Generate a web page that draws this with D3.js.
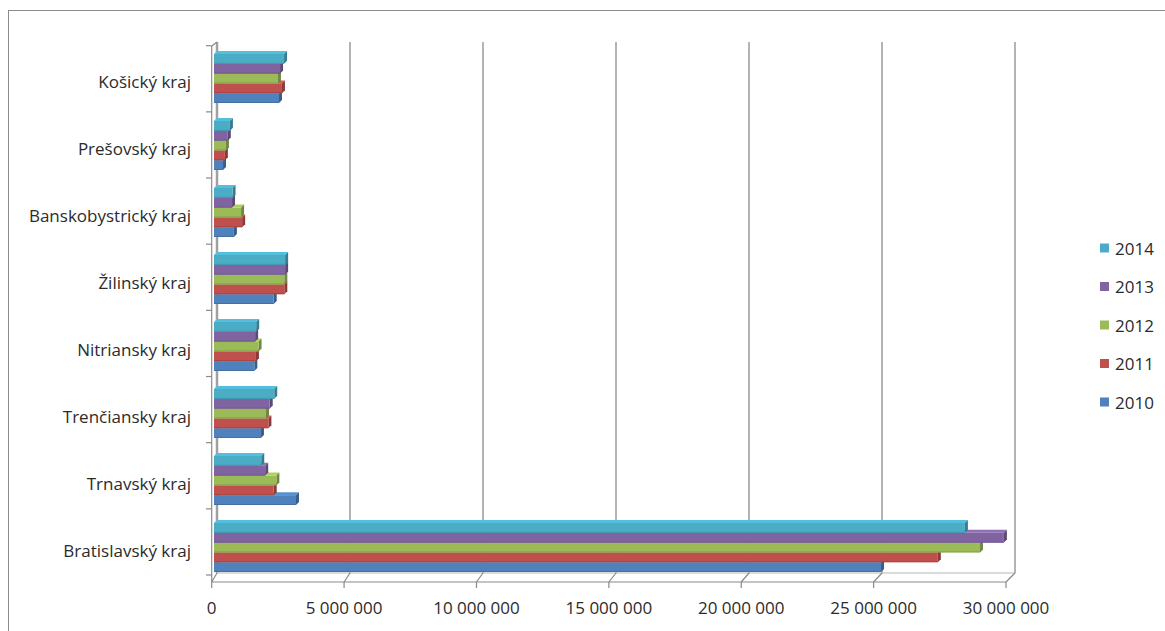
<!DOCTYPE html>
<html><head><meta charset="utf-8">
<script src="https://cdn.jsdelivr.net/npm/d3@7"></script>
<style>body{margin:0;background:#fff}svg{display:block}text{font-family:"Open Sans",sans-serif;fill:#2b2b2b}</style>
</head><body><svg id="c" width="1165" height="631"></svg>
<script>
const categories = ["Košický kraj","Prešovský kraj","Banskobystrický kraj","Žilinský kraj","Nitriansky kraj","Trenčiansky kraj","Trnavský kraj","Bratislavský kraj"];
const series = ["2014","2013","2012","2011","2010"];
const colors = ["#4BACC6","#8064A2","#9BBB59","#C0504D","#4F81BD"];
const v2014 = [2640000, 600000, 700000, 2680000, 1590000, 2270000, 1780000, 28300000];
const v2013 = [2490000, 520000, 680000, 2680000, 1550000, 2100000, 1930000, 29770000];
const v2012 = [2410000, 450000, 1020000, 2650000, 1680000, 1960000, 2350000, 28870000];
const v2011 = [2560000, 410000, 1060000, 2650000, 1580000, 2050000, 2250000, 27280000];
const v2010 = [2450000, 340000, 750000, 2250000, 1520000, 1770000, 3090000, 25140000];
const values = [v2014, v2013, v2012, v2011, v2010];
const xTicks = [0, 5000000, 10000000, 15000000, 20000000, 25000000, 30000000];
const tickLabels = ["0","5 000 000","10 000 000","15 000 000","20 000 000","25 000 000","30 000 000"];

const svg = d3.select("#c");
const grid = "#8a8a8a";
const FS = 17;
svg.append("rect").attr("x",8.5).attr("y",10.5).attr("width",1200).attr("height",700)
  .attr("fill","none").attr("stroke","#8c8c8c").attr("stroke-width",1);

const xFront = d3.scaleLinear().domain([0,30000000]).range([211.7,1006]);
const xBack = d3.scaleLinear().domain([0,30000000]).range([217,1015]);
const xBar = d3.scaleLinear().domain([0,30000000]).range([214,1010]);
const yTop = 42, yBackBot = 573, yFrontBot = 582, yFrontTop = 46;
const yTick = d3.scaleBand().domain(categories).range([45.7,575]);
const yBand = d3.scaleBand().domain(categories).range([46,46+8*67]);
const ySer = d3.scaleBand().domain(series).range([8,57]);

const g = svg.append("g");
g.selectAll("line.grid").data(xTicks.slice(1)).join("line").attr("class","grid")
  .attr("x1",d=>xBack(d)).attr("x2",d=>xBack(d)).attr("y1",yTop).attr("y2",yBackBot)
  .attr("stroke",grid).attr("stroke-width",1.3);
g.append("line").attr("x1",xBack(0)).attr("x2",xBack(0)).attr("y1",yTop).attr("y2",yBackBot)
  .attr("stroke","#a0a0a0").attr("stroke-width",2.5);
g.append("line").attr("x1",xBack(0)).attr("x2",xBack(30000000)).attr("y1",yBackBot).attr("y2",yBackBot)
  .attr("stroke","#b5b5b5").attr("stroke-width",1);
g.selectAll("line.fd").data(xTicks).join("line").attr("class","fd")
  .attr("x1",d=>xFront(d)).attr("y1",yFrontBot).attr("x2",d=>xBack(d)).attr("y2",yBackBot)
  .attr("stroke",grid).attr("stroke-width",1.2);
g.append("line").attr("x1",xFront(0)).attr("y1",yFrontTop).attr("x2",xBack(0)).attr("y2",yTop)
  .attr("stroke",grid).attr("stroke-width",1.2);

const bars = svg.append("g");
const dx = 3, dy = 3;
series.slice().reverse().forEach(s => {
  const si = series.indexOf(s);
  categories.forEach((c, ci) => {
    const v = values[si][ci];
    const x0 = xBar(0), x1 = xBar(v);
    const y = yBand(c) + ySer(s), h = ySer.bandwidth();
    const col = d3.color(colors[si]);
    bars.append("path").attr("d",`M${x0},${y}L${x0+dx},${y-dy}L${x1+dx},${y-dy}L${x1},${y}Z`)
      .attr("fill",col.brighter(0.3));
    bars.append("path").attr("d",`M${x1},${y}L${x1+dx},${y-dy}L${x1+dx},${y+h-dy}L${x1},${y+h}Z`)
      .attr("fill",col.darker(0.9));
    bars.append("rect").attr("x",x0).attr("y",y).attr("width",x1-x0).attr("height",h)
      .attr("fill",colors[si]);
    bars.append("line").attr("x1",x0).attr("x2",x1).attr("y1",y+h-0.5).attr("y2",y+h-0.5)
      .attr("stroke",col.darker(0.4)).attr("stroke-width",1);
  });
});

const ax = svg.append("g");
ax.append("line").attr("x1",xFront(0)).attr("x2",xFront(0)).attr("y1",yFrontTop).attr("y2",yFrontBot)
  .attr("stroke",grid).attr("stroke-width",1.2);
const bounds = categories.map(c=>yTick(c)).concat([575]);
ax.selectAll("line.yt").data(bounds).join("line").attr("class","yt")
  .attr("x1",206).attr("x2",xFront(0)).attr("y1",d=>d).attr("y2",d=>d)
  .attr("stroke",grid).attr("stroke-width",1.2);
ax.append("line").attr("x1",xFront(0)).attr("x2",xFront(30000000)).attr("y1",yFrontBot).attr("y2",yFrontBot)
  .attr("stroke",grid).attr("stroke-width",1.2);
ax.selectAll("line.xt").data(xTicks).join("line").attr("class","xt")
  .attr("x1",d=>xFront(d)).attr("x2",d=>xFront(d)).attr("y1",yFrontBot).attr("y2",yFrontBot+6)
  .attr("stroke",grid).attr("stroke-width",1.2);
ax.selectAll("text.xl").data(xTicks).join("text").attr("class","xl")
  .attr("x",d=>xFront(d)).attr("y",607).attr("text-anchor","middle").attr("dominant-baseline","central")
  .attr("font-size",FS).text((d,i)=>tickLabels[i]);
ax.selectAll("text.yl").data(categories).join("text").attr("class","yl")
  .attr("x",191).attr("y",d=>yBand(d)+yBand.bandwidth()/2+2).attr("text-anchor","end").attr("dominant-baseline","central")
  .attr("font-size",FS).text(d=>d);

const lg = svg.append("g");
series.forEach((s,i)=>{
  const y = 248 + i*38.5;
  lg.append("rect").attr("x",1100).attr("y",y-4.5).attr("width",9).attr("height",9).attr("fill",colors[i]);
  lg.append("text").attr("x",1115).attr("y",y).attr("dominant-baseline","central").attr("font-size",FS).text(s);
});
</script></body></html>
